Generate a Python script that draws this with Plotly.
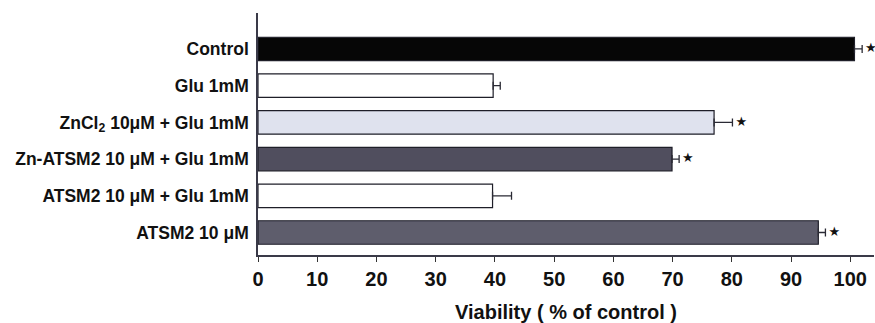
import plotly.graph_objects as go

categories = [
    "ATSM2 10 μM",
    "ATSM2 10 μM + Glu 1mM",
    "Zn-ATSM2 10 μM + Glu 1mM",
    "ZnCl<sub>2</sub> 10μM + Glu 1mM",
    "Glu 1mM",
    "Control",
]
values = [94.6, 39.6, 69.9, 77.0, 39.7, 100.7]
errors = [1.2, 3.2, 1.2, 3.1, 1.2, 1.3]
stars = ["★", "", "★", "★", "", "★"]
colors = ["#5e5d6c", "#ffffff", "#504e5e", "#dfe2ee", "#ffffff", "#060606"]
x_ticks = [0, 10, 20, 30, 40, 50, 60, 70, 80, 90, 100]

FONT = "Liberation Sans, Arial, sans-serif"
ypos = list(range(len(categories)))

fig = go.Figure()
fig.add_trace(go.Bar(
    y=ypos, x=values, orientation="h", width=0.64,
    marker=dict(color=colors, line=dict(color="#1e1e28", width=1.2)),
    error_x=dict(type="data", array=errors, symmetric=False, color="#2a2a34",
                 thickness=1.3, width=4),
    showlegend=False,
))
fig.add_trace(go.Scatter(
    y=ypos, x=[v + e + 0.5 for v, e in zip(values, errors)], mode="text",
    text=stars, textposition="middle right",
    textfont=dict(family="DejaVu Sans", size=13, color="#111"),
    showlegend=False, cliponaxis=False,
))

fig.update_layout(
    width=875, height=323,
    margin=dict(l=258, r=1, t=13, b=68),
    plot_bgcolor="white", paper_bgcolor="white",
    font=dict(family=FONT, color="#111"),
    xaxis=dict(
        range=[0, 104], tickvals=x_ticks, ticks="outside", ticklen=5,
        tickwidth=1.2, tickcolor="#333", showline=True, linecolor="#3a3a48",
        linewidth=1.5, showgrid=False, zeroline=False, ticklabelstandoff=0,
        tickfont=dict(family=FONT, size=20, color="#111", weight="bold"),
        title=dict(text="Viability ( % of control )", standoff=16,
                   font=dict(family=FONT, size=20, color="#111", weight="bold")),
    ),
    yaxis=dict(
        range=[-0.613, 5.98], tickvals=ypos, ticktext=categories,
        showline=True, linecolor="#3a3a48", linewidth=1.5, ticks="",
        showgrid=False, zeroline=False, ticklabelstandoff=4,
        tickfont=dict(family=FONT, size=17.5, color="#111", weight="bold"),
    ),
)

fig.write_html("out.html")
